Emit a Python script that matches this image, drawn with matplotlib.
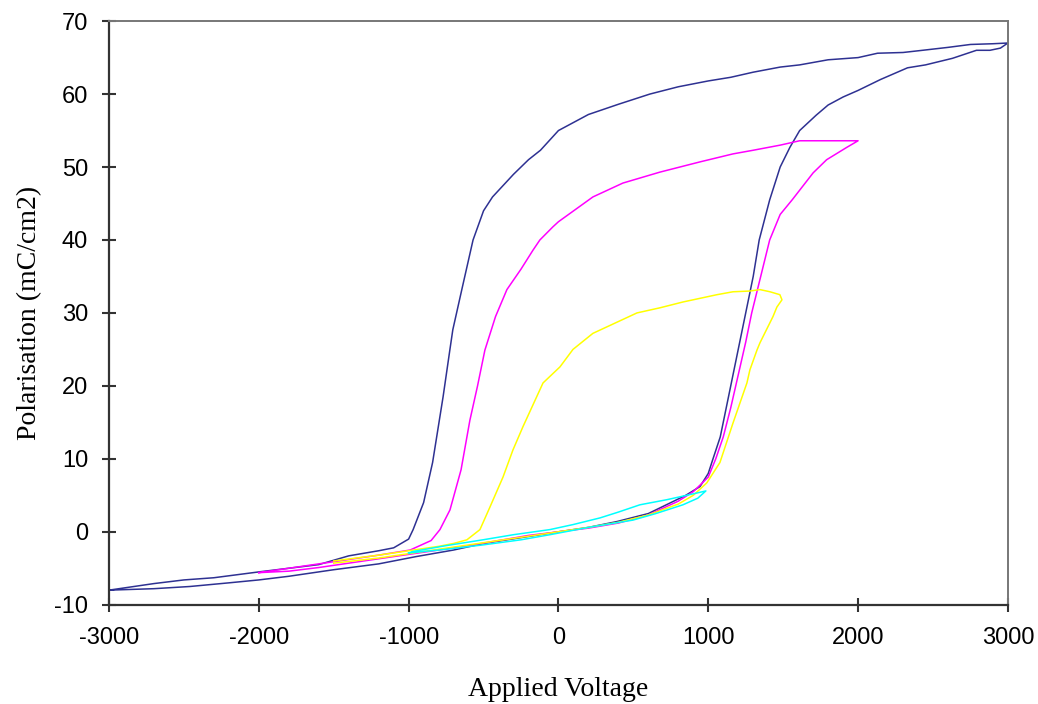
import matplotlib
matplotlib.use('Agg')
import matplotlib.pyplot as plt

# --- loop data (applied voltage, polarisation) ---
# +/-3000 V loop, rising branch then falling branch
v3000_up = [-3000, -2700, -2460, -2200, -2000, -1800, -1500, -1200, -950, -700, -500, -250, 0, 200, 390,
            600, 750, 850, 945, 1000, 1030, 1080, 1150, 1200, 1250, 1300, 1340, 1410, 1480, 1545, 1610,
            1720, 1800, 1900, 2000, 2150, 2330, 2450, 2630, 2790, 2880, 2950, 3000]
p3000_up = [-8.0, -7.8, -7.5, -7.0, -6.6, -6.1, -5.2, -4.4, -3.4, -2.5, -1.6, -0.8, 0.0, 0.6, 1.4,
            2.5, 4.0, 5.0, 6.2, 8.0, 9.9, 13.0, 20.0, 25.0, 30.0, 35.0, 40.0, 45.5, 50.0, 52.7, 55.0,
            57.1, 58.5, 59.6, 60.5, 62.0, 63.6, 64.0, 64.9, 66.0, 66.0, 66.3, 67.0]
v3000_dn = [3000, 2900, 2750, 2600, 2430, 2300, 2130, 2000, 1800, 1610, 1480, 1300, 1150, 1000, 800,
            610, 400, 200, 0, -120, -200, -300, -440, -500, -570, -645, -705, -725, -770, -840, -900,
            -970, -1000, -1100, -1200, -1400, -1600, -1800, -2000, -2300, -2500, -2700, -3000]
p3000_dn = [67.0, 66.9, 66.8, 66.4, 66.0, 65.7, 65.6, 65.0, 64.7, 64.0, 63.7, 63.0, 62.3, 61.8, 61.0,
            60.0, 58.6, 57.2, 55.0, 52.3, 51.0, 49.0, 45.9, 44.0, 40.0, 33.2, 27.7, 24.9, 18.5, 9.5, 4.0,
            0.3, -1.0, -2.2, -2.6, -3.3, -4.5, -5.0, -5.5, -6.3, -6.6, -7.1, -8.0]

# +/-2000 V loop
v2000_up = [-2000, -1800, -1600, -1400, -1200, -1000, -800, -600, -400, -200, 0, 200, 400, 600, 800,
            900, 1000, 1050, 1100, 1150, 1200, 1250, 1290, 1350, 1410, 1480, 1560, 1700, 1790, 1925, 2000]
p2000_up = [-5.6, -5.4, -4.9, -4.3, -3.7, -3.1, -2.5, -1.9, -1.2, -0.5, 0.0, 0.5, 1.2, 2.3, 4.2,
            5.5, 7.5, 10.0, 13.0, 17.0, 21.5, 26.0, 30.0, 35.0, 40.0, 43.5, 45.5, 49.2, 51.0, 52.7, 53.6]
v2000_dn = [2000, 1800, 1610, 1480, 1300, 1165, 944, 677, 430, 230, 0, -37, -124, -170, -250, -344,
            -420, -491, -540, -591, -650, -724, -791, -850, -990, -1200, -1400, -1600, -1800, -2000]
p2000_dn = [53.6, 53.6, 53.6, 53.0, 52.3, 51.8, 50.7, 49.3, 47.8, 45.9, 42.5, 41.8, 40.0, 38.6, 36.0, 33.2,
            29.5, 24.9, 20.0, 15.3, 8.5, 3.0, 0.3, -1.2, -2.5, -3.2, -3.8, -4.4, -5.0, -5.6]

# +/-1500 V loop
v1500_up = [-1500, -1200, -1000, -800, -600, -400, -200, 0, 200, 400, 600, 800, 900, 990, 1078,
            1165, 1258, 1278, 1325, 1345, 1432, 1458, 1492]
p1500_up = [-4.3, -3.6, -3.0, -2.4, -1.8, -1.2, -0.6, 0.0, 0.6, 1.3, 2.3, 3.8, 5.0, 6.7, 9.5,
            14.9, 20.4, 22.2, 24.9, 25.9, 29.5, 30.8, 31.8]
v1500_dn = [1478, 1412, 1345, 1278, 1165, 1058, 831, 677, 524, 230, 97, 10, -103, -237, -304, -370,
            -457, -524, -611, -700, -800, -1000, -1200, -1500]
p1500_dn = [32.5, 32.9, 33.2, 33.0, 32.9, 32.5, 31.5, 30.7, 30.0, 27.2, 25.0, 22.6, 20.4, 14.4, 11.2, 7.5,
            3.4, 0.3, -1.1, -1.6, -2.0, -2.6, -3.2, -4.0]

# +/-1000 V loop
v1000_up = [-1000, -750, -504, -250, -57, 200, 497, 650, 831, 930, 984]
p1000_up = [-2.9, -2.4, -1.8, -1.1, -0.4, 0.6, 1.6, 2.5, 3.7, 4.6, 5.6]
v1000_dn = [984, 900, 724, 544, 400, 277, 100, -57, -300, -504, -750, -971, -1000]
p1000_dn = [5.6, 5.2, 4.4, 3.7, 2.7, 1.9, 1.0, 0.3, -0.4, -1.1, -1.9, -2.7, -2.9]

x_ticks = [-3000, -2000, -1000, 0, 1000, 2000, 3000]
y_ticks = [-10, 0, 10, 20, 30, 40, 50, 60, 70]

fig = plt.figure(figsize=(10.38, 7.04), dpi=100)
ax = fig.add_axes([0.105, 0.141, 0.866, 0.829])

lw = 1.1
ax.plot(v3000_up + v3000_dn, p3000_up + p3000_dn, color='#2E3192', lw=lw)
ax.plot(v2000_up + v2000_dn, p2000_up + p2000_dn, color='#FF00FF', lw=lw)
ax.plot(v1500_up + v1500_dn, p1500_up + p1500_dn, color='#FFFF00', lw=lw)
ax.plot(v1000_up + v1000_dn, p1000_up + p1000_dn, color='#00FFFF', lw=lw)

ax.set_xlim(-3000, 3000)
ax.set_ylim(-10, 70)
ax.set_xticks(x_ticks)
ax.set_yticks(y_ticks)
ax.set_xticklabels([str(t) for t in x_ticks], family='Liberation Sans', fontsize=17)
ax.set_yticklabels([str(t) for t in y_ticks], family='Liberation Sans', fontsize=17)
ax.tick_params(axis='x', direction='inout', length=10, width=1.5, color='#333333', pad=11)
ax.tick_params(axis='y', direction='inout', length=10, width=1.5, color='#333333', pad=10)

for side in ['left', 'bottom']:
    ax.spines[side].set_color('#333333')
    ax.spines[side].set_linewidth(1.6)
for side in ['top', 'right']:
    ax.spines[side].set_color('#777777')
    ax.spines[side].set_linewidth(1.4)

ax.set_xlabel('Applied Voltage', family='Liberation Serif', fontsize=20, labelpad=20)
ax.set_ylabel('Polarisation (mC/cm2)', family='Liberation Serif', fontsize=20, labelpad=9)

fig.savefig('out.png', dpi=100)
